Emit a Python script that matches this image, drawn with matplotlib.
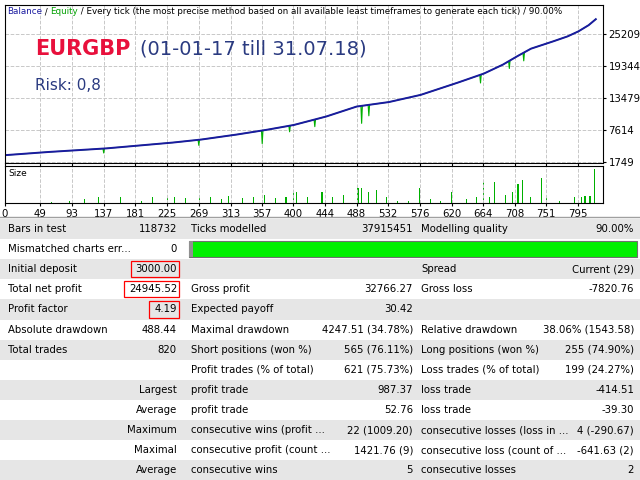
import numpy as np
from matplotlib import pyplot as plt
from matplotlib.patches import Rectangle

# balance curve (trade number -> balance)
bal_x = [0, 50, 100, 137, 181, 225, 269, 313, 357, 400, 444, 488, 532, 576, 620, 664, 690, 708, 730, 751, 780, 795, 810, 820]
bal_y = [3000, 3500, 3900, 4200, 4700, 5200, 5800, 6600, 7500, 8500, 10000, 11900, 12700, 14000, 15900, 17900, 19500, 20900, 22500, 23400, 24700, 25600, 26800, 27900]

# equity dips (trade, depth)
dip_x = [137, 269, 357, 395, 430, 495, 505, 660, 700, 720]
dip_d = [800, 1000, 2400, 1100, 1300, 3200, 2000, 1500, 1400, 1500]

# lot size bars (trade, relative height)
size_x = [65, 90, 110, 130, 160, 190, 205, 225, 235, 250, 270, 285, 300, 310, 330, 345, 360, 375, 390, 400, 405, 420, 440,
          455, 470, 490, 495, 505, 515, 530, 545, 560, 575, 590, 605, 620, 640, 655, 664, 672, 680, 695, 705, 712, 718, 730, 745, 751, 770, 790, 800, 805, 812, 818]
size_h = [0.05, 0.08, 0.2, 0.3, 0.3, 0.1, 0.3, 0.25, 0.3, 0.25, 0.4, 0.3, 0.2, 0.35, 0.25, 0.3, 0.4, 0.25, 0.3, 0.6, 0.5, 0.3, 0.5,
          0.3, 0.4, 0.7, 0.7, 0.5, 0.6, 0.3, 0.1, 0.1, 0.7, 0.2, 0.1, 0.5, 0.2, 0.3, 1.0, 0.3, 1.0, 0.4, 0.5, 0.9, 1.1, 0.3, 1.2, 0.4, 0.1, 0.3, 0.3, 0.35, 0.35, 1.6]

x_ticks = [0, 49, 93, 137, 181, 225, 269, 313, 357, 400, 444, 488, 532, 576, 620, 664, 708, 751, 795]
y_ticks = [1749, 7614, 13479, 19344, 25209]

rows = [
    ["Bars in test", "118732", "Ticks modelled", "37915451", "Modelling quality", "90.00%"],
    ["Mismatched charts err...", "0", "", "", "", ""],
    ["Initial deposit", "3000.00", "", "", "Spread", "Current (29)"],
    ["Total net profit", "24945.52", "Gross profit", "32766.27", "Gross loss", "-7820.76"],
    ["Profit factor", "4.19", "Expected payoff", "30.42", "", ""],
    ["Absolute drawdown", "488.44", "Maximal drawdown", "4247.51 (34.78%)", "Relative drawdown", "38.06% (1543.58)"],
    ["Total trades", "820", "Short positions (won %)", "565 (76.11%)", "Long positions (won %)", "255 (74.90%)"],
    ["", "", "Profit trades (% of total)", "621 (75.73%)", "Loss trades (% of total)", "199 (24.27%)"],
    ["Largest", "", "profit trade", "987.37", "loss trade", "-414.51"],
    ["Average", "", "profit trade", "52.76", "loss trade", "-39.30"],
    ["Maximum", "", "consecutive wins (profit ...", "22 (1009.20)", "consecutive losses (loss in ...", "4 (-290.67)"],
    ["Maximal", "", "consecutive profit (count ...", "1421.76 (9)", "consecutive loss (count of ...", "-641.63 (2)"],
    ["Average", "", "consecutive wins", "5", "consecutive losses", "2"],
]

W, H = 640, 480
fig = plt.figure(figsize=(6.4, 4.8), dpi=100)
fig.patch.set_facecolor('white')


def px_axes(l, t, r, b):
    return fig.add_axes([l / W, 1 - b / H, (r - l) / W, (b - t) / H])


fs = 7.3

# main chart
ax = px_axes(5, 5, 603, 163)
xs = np.arange(0, 821)
bal = np.interp(xs, bal_x, bal_y)
eq = bal.copy()
for dx, dd in zip(dip_x, dip_d):
    eq[dx] -= dd
ax.plot(xs, eq, color='#00b000', lw=0.8)
ax.plot(xs, bal, color='#1a1aa0', lw=1.4)
ax.set_xlim(0, 830)
ax.set_ylim(1566, 30500)
ax.set_xticks(x_ticks)
ax.set_yticks(y_ticks)
ax.set_xticklabels([])
ax.yaxis.tick_right()
ax.set_yticklabels([str(v) for v in y_ticks], fontsize=fs)
ax.tick_params(length=2, pad=2)
ax.grid(True, color='#c8c8c8', ls='--', lw=0.7)

# header, pieces chained one after another
hdr = [("Balance", '#1a1aa0'), (" / ", 'black'), ("Equity", '#00a000'),
       (" / Every tick (the most precise method based on all available least timeframes to generate each tick) / 90.00%", 'black')]
prev = ax.text(0.003, 0.985, hdr[0][0], color=hdr[0][1], fontsize=6.3, transform=ax.transAxes, va='top')
for s, c in hdr[1:]:
    prev = ax.annotate(s, xy=(1, 0), xycoords=prev, va='bottom', color=c, fontsize=6.3)

ax.text(0.05, 0.72, "EURGBP", color='#e8103c', fontsize=15, fontweight='bold', transform=ax.transAxes, va='center')
ax.text(0.225, 0.72, "(01-01-17 till 31.07.18)", color='#2a3a80', fontsize=14, transform=ax.transAxes, va='center')
ax.text(0.05, 0.49, "Risk: 0,8", color='#2a3a80', fontsize=11, transform=ax.transAxes, va='center')

# size panel
ax2 = px_axes(5, 166, 603, 203)
ax2.bar(size_x, size_h, width=1.5, color='#00b000')
ax2.set_xlim(0, 830)
ax2.set_ylim(0, 1.75)
ax2.set_xticks(x_ticks)
ax2.set_xticklabels([str(v) for v in x_ticks], fontsize=fs)
ax2.set_yticks([])
ax2.tick_params(length=2, pad=2)
ax2.grid(True, axis='x', color='#c8c8c8', ls='--', lw=0.7)
ax2.text(0.005, 0.93, "Size", fontsize=6.5, transform=ax2.transAxes, va='top')

# report table
tb = fig.add_axes([0, 0, 1, 1])
tb.set_xlim(0, W)
tb.set_ylim(H, 0)
tb.axis('off')
tb.axhline(217, color='#a0a0a0', lw=1)
top, step = 219, 20.1
for i, r in enumerate(rows):
    y0 = top + i * step
    yc = y0 + step / 2
    tb.add_patch(Rectangle((0, y0), W, step, color='#e6e6e6' if i % 2 == 0 else 'white', lw=0))
    if r[1] == "" and r[0] != "":
        tb.text(177, yc, r[0], ha='right', va='center', fontsize=fs)
    else:
        tb.text(8, yc, r[0], va='center', fontsize=fs)
        tb.text(177, yc, r[1], ha='right', va='center', fontsize=fs)
    tb.text(191, yc, r[2], va='center', fontsize=fs)
    tb.text(413, yc, r[3], ha='right', va='center', fontsize=fs)
    tb.text(421, yc, r[4], va='center', fontsize=fs)
    tb.text(634, yc, r[5], ha='right', va='center', fontsize=fs)
    if i in (2, 3, 4):
        wbox = {2: 48, 3: 55, 4: 30}[i]
        tb.add_patch(Rectangle((179 - wbox, y0 + 2), wbox, step - 4, fill=False, ec='red', lw=0.9))

# modelling quality bar
y1 = top + step
tb.add_patch(Rectangle((189, y1 + 2), 448, step - 4, facecolor='#00f000', edgecolor='#707070', lw=0.8))
tb.add_patch(Rectangle((189, y1 + 2), 4, step - 4, facecolor='#909090', lw=0))

plt.savefig('out.png', dpi=100)
